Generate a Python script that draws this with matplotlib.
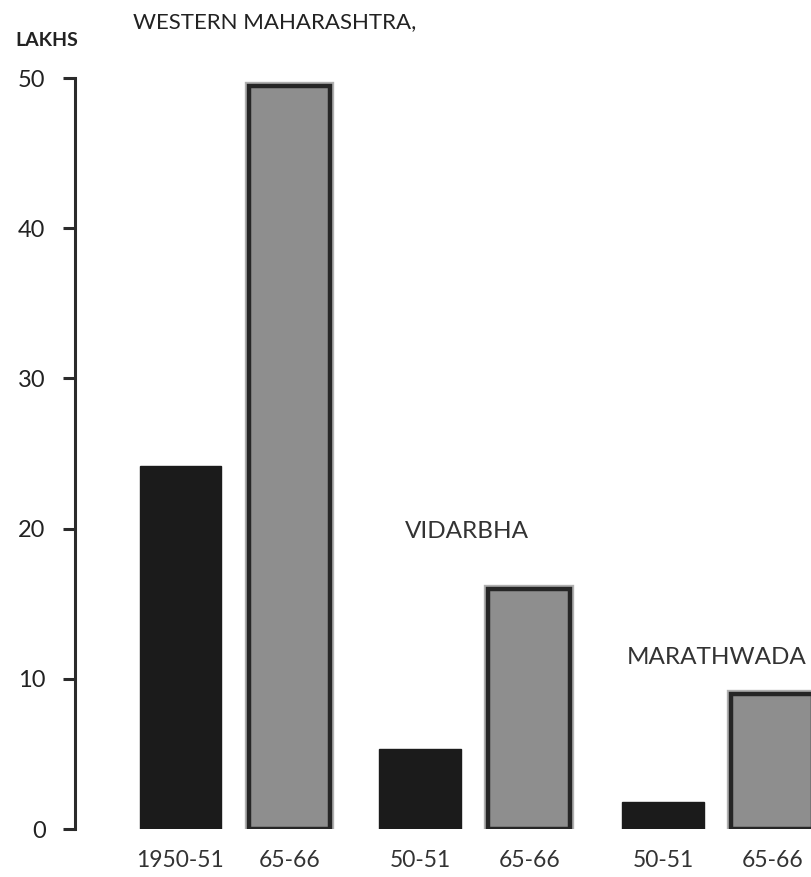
import numpy as np
import matplotlib
matplotlib.use("Agg")
from matplotlib import pyplot as plt
from matplotlib import patheffects as pe

plt.rcParams['font.family'] = ['Lato', 'DejaVu Sans']

# values in lakhs
regions = ["WESTERN MAHARASHTRA,", "VIDARBHA", "MARATHWADA"]
year_labels = ["1950-51", "65-66", "50-51", "65-66", "50-51", "65-66"]
values_1950 = [24.2, 5.3, 1.8]
values_1965 = [49.5, 16.0, 9.0]

fig = plt.figure(figsize=[8.12, 8.77], dpi=100)
ax = fig.add_axes([0.092, 0.0547, 0.908, 0.8563])

# group starting positions (in bar-spacing units)
group_x = np.array([0.0, 2.29, 4.61])
x_old = group_x
x_new = group_x + 1.04
w = 0.78

ax.bar(x_old, values_1950, w, color="#1b1b1b", edgecolor="#1b1b1b", linewidth=1)
light = ax.bar(x_new, values_1965, w, color="#8e8e8e", edgecolor="#262626", linewidth=3.2)
for b in light:
    b.set_path_effects([pe.Stroke(linewidth=6, foreground="#b0b0b0"), pe.Normal()])

ax.set_xlim(-1.01, 6.03)
ax.set_ylim(0, 50)

for s in ["top", "right", "bottom"]:
    ax.spines[s].set_visible(False)
ax.spines["left"].set_linewidth(2.2)
ax.spines["left"].set_color("#2b2b2b")

ax.set_yticks([0, 10, 20, 30, 40, 50])
ax.set_yticklabels(["0", "10", "20", "30", "40", "50"])
ax.tick_params(axis="y", direction="out", length=9, width=2.2, color="#2b2b2b",
               pad=12, labelsize=17, labelcolor="#222222")

xpos = np.ravel(np.column_stack([x_old, x_new]))
ax.set_xticks(xpos)
ax.set_xticklabels(year_labels)
ax.tick_params(axis="x", length=0, pad=15, labelsize=16.5, labelcolor="#333333")

# region titles and unit label
fig.text(15 / 812, 1 - 40 / 877, "LAKHS", fontsize=14, color="#222222",
         va="center", ha="left", fontweight="bold")
fig.text(133 / 812, 1 - 22 / 877, regions[0], fontsize=16, color="#222222",
         va="center", ha="left")
fig.text(405 / 812, 1 - 531 / 877, regions[1], fontsize=17.5, color="#333333",
         va="center", ha="left")
fig.text(627 / 812, 1 - 657 / 877, regions[2], fontsize=17.5, color="#333333",
         va="center", ha="left")

plt.savefig("out.png", dpi=100, facecolor="white")
